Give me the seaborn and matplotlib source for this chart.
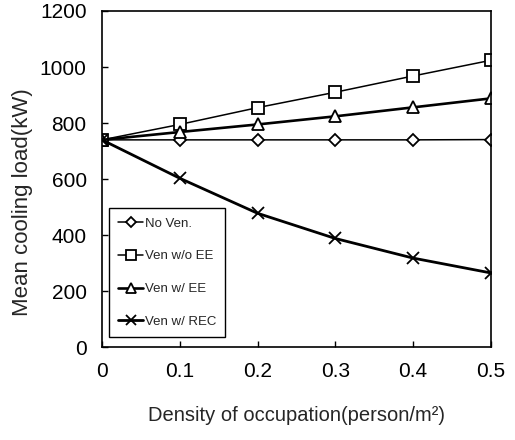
import numpy as np
import pandas as pd
import seaborn as sns
from matplotlib import pyplot as plt

density = [0.0, 0.1, 0.2, 0.3, 0.4, 0.5]
no_ven = [740, 740, 740, 740, 740, 741]
ven_wo_ee = [740, 795, 855, 910, 968, 1024]
ven_w_ee = [740, 768, 795, 824, 856, 888]
ven_w_rec = [740, 603, 478, 388, 318, 265]

series = ["No Ven.", "Ven w/o EE", "Ven w/ EE", "Ven w/ REC"]
values = [no_ven, ven_wo_ee, ven_w_ee, ven_w_rec]
markers = ["D", "s", "^", "x"]
msizes = [6, 9, 9, 9]
widths = [1.1, 1.1, 1.9, 2.0]

df = pd.DataFrame({
    "density": np.tile(density, len(series)),
    "load": np.concatenate(values),
    "series": np.repeat(series, len(density)),
})

sns.set_style("white")
plt.rcParams['font.family'] = ['Liberation Sans', 'DejaVu Sans']

fig = plt.figure(figsize=(5.15, 4.4), dpi=100)
ax = fig.add_axes([0.198, 0.211, 0.755, 0.764])

for name, mk, ms, lw in zip(series, markers, msizes, widths):
    sub = df[df.series == name]
    sns.lineplot(data=sub, x="density", y="load", ax=ax, color="black",
                 marker=mk, markersize=ms, linewidth=lw,
                 markerfacecolor="white", markeredgecolor="black",
                 markeredgewidth=1.3, label=name, legend=False)

ax.set_xlim(0, 0.5)
ax.set_ylim(0, 1200)
ax.set_xticks(density)
ax.set_xticklabels(["0", "0.1", "0.2", "0.3", "0.4", "0.5"])
ax.set_yticks(np.arange(0, 1201, 200))
ax.tick_params(axis="both", direction="in", length=4, width=1, labelsize=15,
               colors="black", bottom=True, left=True)
ax.tick_params(axis="x", pad=11)
ax.tick_params(axis="y", pad=11)
for sp in ax.spines.values():
    sp.set_color("black")
    sp.set_linewidth(1.2)

ax.set_xlabel("Density of occupation(person/m²)", fontsize=14.5, labelpad=18)
ax.set_ylabel("Mean cooling load(kW)", fontsize=16)
ax.yaxis.set_label_coords(-0.177, 0.43)

leg = ax.legend(handles=ax.lines, labels=series, loc="lower left",
                bbox_to_anchor=(0.018, 0.03), borderaxespad=0, fontsize=9.5,
                handlelength=1.9, handletextpad=0.1, labelspacing=1.55,
                borderpad=0.7, numpoints=1, fancybox=False, framealpha=1,
                markerscale=0.8)
leg.get_frame().set_edgecolor("black")
leg.get_frame().set_linewidth(1.0)

fig.savefig("out.png", dpi=100)
